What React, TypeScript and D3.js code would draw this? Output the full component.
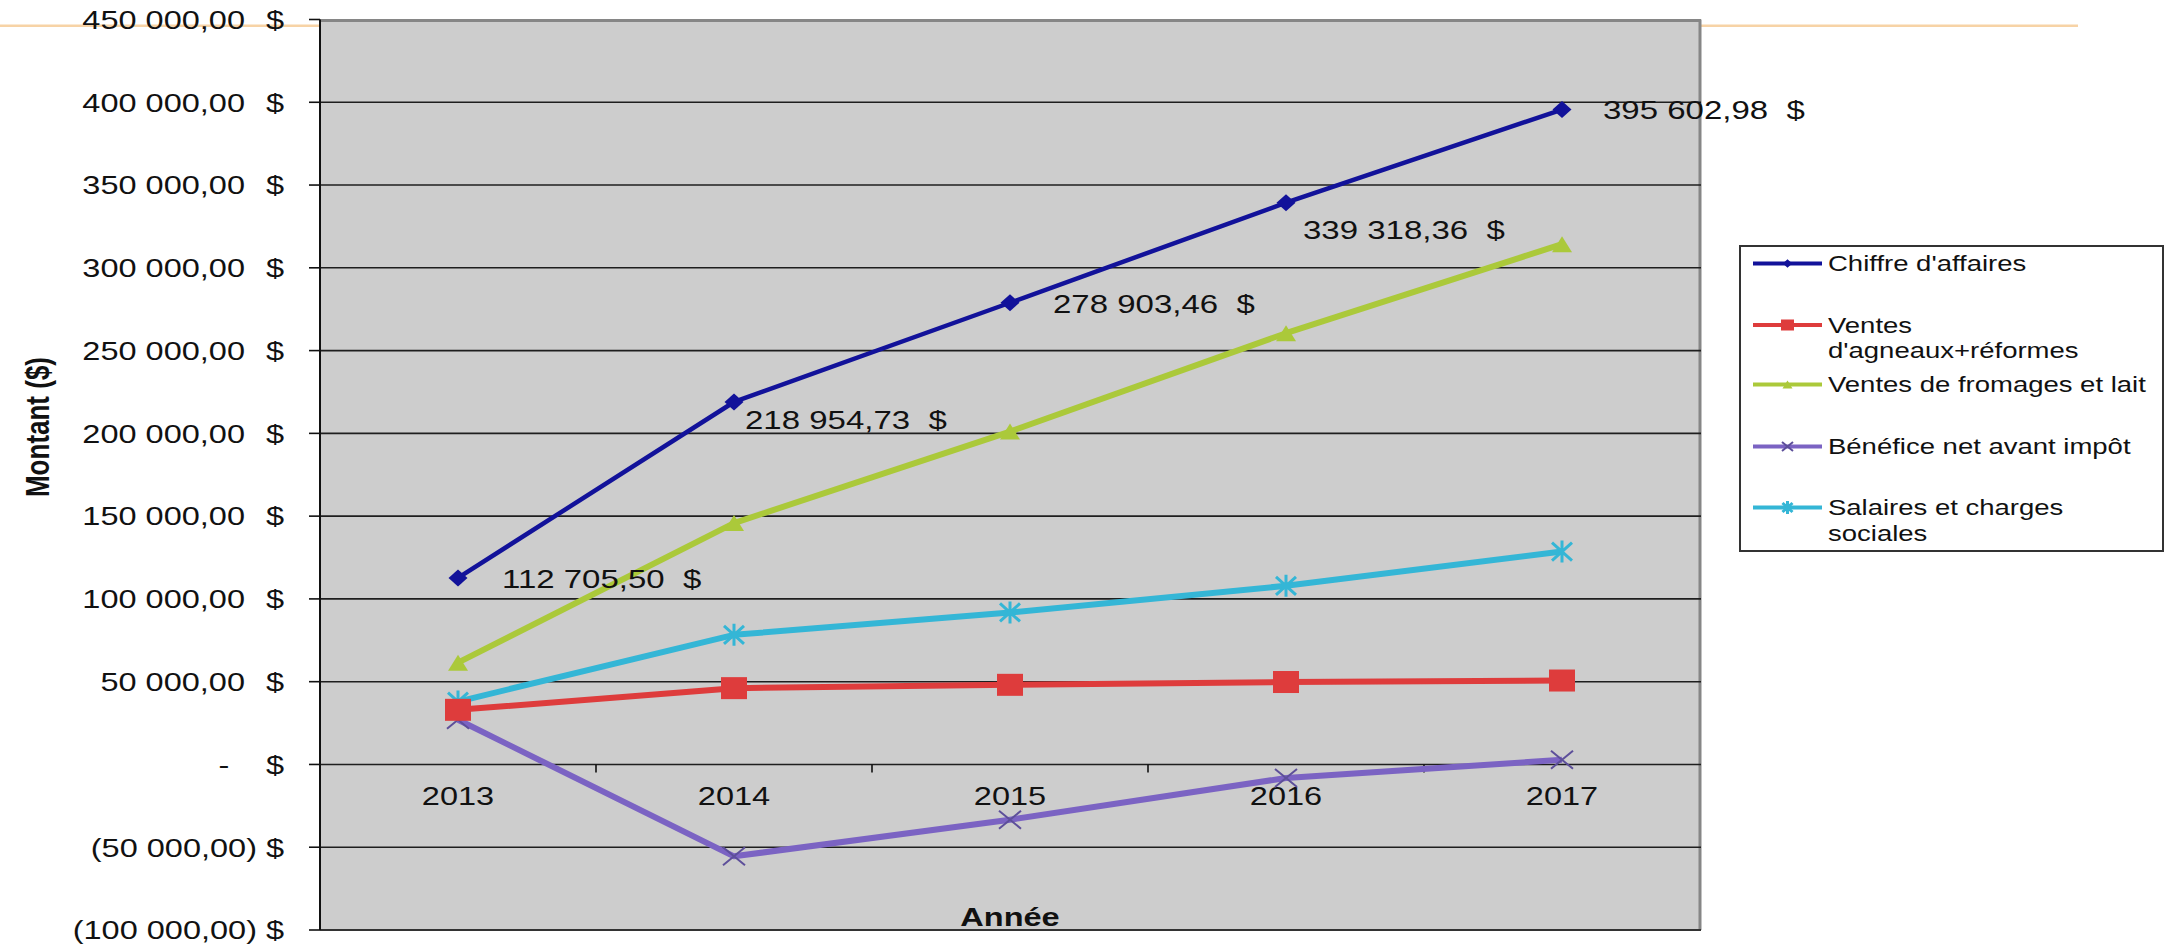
import React from "react";
import * as d3 from "d3";

const years = ["2013", "2014", "2015", "2016", "2017"];
const chiffreAffaires = [112705.5, 218954.73, 278903.46, 339318.36, 395602.98];
const ventesAgneaux = [33000, 46100, 48100, 49800, 50700];
const ventesFromages = [61500, 145800, 201100, 260500, 314300];
const benefice = [27000, -55500, -33400, -8200, 2800];
const salaires = [38000, 78300, 91800, 107900, 128600];
const yTicks = [-100000, -50000, 0, 50000, 100000, 150000, 200000, 250000, 300000, 350000, 400000, 450000];
const seriesNames = [
  ["Chiffre d'affaires"],
  ["Ventes", "d'agneaux+réformes"],
  ["Ventes de fromages et lait"],
  ["Bénéfice net avant impôt"],
  ["Salaires et charges", "sociales"],
];
// label offsets (dx, dy) for the data labels of Chiffre d'affaires
const labelOffsets = [
  [44, 1],
  [11, 18],
  [43, 1],
  [17, 27],
  [41, 0],
];

const W = 2172;
const H = 944;
const plot = { left: 320, right: 1701, top: 19.5, bottom: 930 };
const FONT = "'Liberation Sans', Arial, sans-serif";
const SX = 1.25;

const y = d3.scaleLinear().domain([-100000, 450000]).range([plot.bottom, plot.top]);
const x = d3.scalePoint<string>().domain(years).range([458, 1562]);

const loc = d3.formatLocale({ decimal: ",", thousands: " ", grouping: [3], currency: ["", "$"] });
const fmt = loc.format(",.2f");

type MarkerKind = "diamond" | "square" | "triangle" | "x" | "star";

const series = [
  { values: chiffreAffaires, color: "#12129a", width: 4.5, marker: "diamond" as MarkerKind },
  { values: ventesAgneaux, color: "#de3c3c", width: 6, marker: "square" as MarkerKind },
  { values: ventesFromages, color: "#abc93a", width: 6, marker: "triangle" as MarkerKind },
  { values: benefice, color: "#7b63c3", width: 6, marker: "x" as MarkerKind },
  { values: salaires, color: "#34b6d6", width: 6, marker: "star" as MarkerKind },
];

function SText(props: any) {
  const { x: tx, y: ty, sx = SX, anchor = "start", size = 26, weight = "normal", rotate = 0, children, fill = "#111" } = props;
  return (
    <g transform={`translate(${tx},${ty}) scale(${sx},1) rotate(${rotate})`}>
      <text textAnchor={anchor} fontSize={size} fontWeight={weight} fontFamily={FONT} fill={fill} style={{ whiteSpace: "pre" }}>
        {children}
      </text>
    </g>
  );
}

function Marker({ kind, cx, cy, color, s = 1 }: { kind: MarkerKind; cx: number; cy: number; color: string; s?: number }) {
  if (kind === "diamond") {
    const hw = 9.5 * s, hh = 8.5 * s;
    return <path d={`M${cx},${cy - hh}L${cx + hw},${cy}L${cx},${cy + hh}L${cx - hw},${cy}Z`} fill={color} />;
  }
  if (kind === "square") {
    const hw = 13 * s, hh = 11 * s;
    return <rect x={cx - hw} y={cy - hh} width={2 * hw} height={2 * hh} fill={color} />;
  }
  if (kind === "triangle") {
    const hw = 10 * s, hh = 8 * s;
    return <path d={`M${cx},${cy - hh}L${cx + hw},${cy + hh}L${cx - hw},${cy + hh}Z`} fill={color} />;
  }
  if (kind === "x") {
    const hw = 11 * s, hh = 9 * s;
    return (
      <path
        d={`M${cx - hw},${cy - hh}L${cx + hw},${cy + hh}M${cx - hw},${cy + hh}L${cx + hw},${cy - hh}`}
        stroke="#5d4f9a"
        strokeWidth={2}
        fill="none"
      />
    );
  }
  const hw = 10 * s, hh = 9 * s;
  return (
    <path
      d={`M${cx - hw},${cy - hh}L${cx + hw},${cy + hh}M${cx - hw},${cy + hh}L${cx + hw},${cy - hh}M${cx},${cy - hh - 2}L${cx},${cy + hh + 2}`}
      stroke={color}
      strokeWidth={3}
      fill="none"
    />
  );
}

export default function App() {
  const line = d3
    .line<number>()
    .x((_, i) => x(years[i]) as number)
    .y((d) => y(d));

  const gridTicks = yTicks.filter((t) => t > -100000 && t < 450000);
  const xTickMarks = years.slice(1).map((yr, i) => ((x(years[i]) as number) + (x(yr) as number)) / 2);

  const legendRows = [263.5, 325, 384.5, 446.5, 507.5];

  return (
    <svg width={W} height={H} style={{ position: "absolute", left: 0, top: 0, background: "#fff" }}>
      <rect x={0} y={0} width={W} height={H} fill="#fff" />
      {/* decorative orange rule */}
      <line x1={0} x2={2078} y1={25.7} y2={25.7} stroke="#f7d3a6" strokeWidth={2.5} />

      {/* plot area */}
      <rect x={plot.left} y={plot.top} width={plot.right - plot.left} height={plot.bottom - plot.top} fill="#cdcdcd" />
      <line x1={plot.left} x2={plot.right} y1={plot.top + 1} y2={plot.top + 1} stroke="#868686" strokeWidth={3} />
      <line x1={plot.right - 1} x2={plot.right - 1} y1={plot.top} y2={plot.bottom} stroke="#868686" strokeWidth={3} />

      {gridTicks.map((t) => (
        <line key={t} x1={plot.left} x2={plot.right} y1={y(t)} y2={y(t)} stroke="#1e1e1e" strokeWidth={1.6} />
      ))}
      <line x1={plot.left} x2={plot.right} y1={plot.bottom} y2={plot.bottom} stroke="#333" strokeWidth={2} />

      {/* y axis */}
      <line x1={plot.left} x2={plot.left} y1={plot.top} y2={plot.bottom} stroke="#111" strokeWidth={2} />
      {yTicks.map((t) => (
        <line key={"yt" + t} x1={309} x2={plot.left} y1={y(t)} y2={y(t)} stroke="#111" strokeWidth={1.6} />
      ))}
      {yTicks.map((t) => {
        const ty = y(t) + 0.358 * 26;
        let num: React.ReactNode;
        if (t === 0) num = <SText x={224} y={ty} anchor="middle">-</SText>;
        else if (t < 0) num = <SText x={257} y={ty} anchor="end">{"(" + fmt(-t) + ")"}</SText>;
        else num = <SText x={245} y={ty} anchor="end">{fmt(t)}</SText>;
        return (
          <g key={"yl" + t}>
            {num}
            <SText x={284} y={ty} anchor="end">$</SText>
          </g>
        );
      })}

      {/* x axis ticks */}
      {xTickMarks.map((tx) => (
        <line key={tx} x1={tx} x2={tx} y1={y(0)} y2={y(0) + 8} stroke="#111" strokeWidth={1.6} />
      ))}
      {years.map((yr) => (
        <SText key={yr} x={x(yr)} y={796 + 0.358 * 26} anchor="middle">{yr}</SText>
      ))}

      {/* axis titles */}
      <SText x={1010} y={917 + 0.358 * 26} anchor="middle" weight="bold">Année</SText>
      <SText x={37} y={427} anchor="middle" weight="bold" rotate={-90}>
        <tspan dy={9.3}>Montant ($)</tspan>
      </SText>

      {/* series lines (drawn bottom to top) */}
      {[4, 3, 2, 1, 0].map((si) => {
        const s = series[si];
        return (
          <path key={"l" + si} d={line(s.values) || ""} fill="none" stroke={s.color} strokeWidth={s.width} strokeLinejoin="round" />
        );
      })}
      {[4, 3, 2, 1, 0].map((si) => {
        const s = series[si];
        return (
          <g key={"m" + si}>
            {s.values.map((v, i) => (
              <Marker key={i} kind={s.marker} cx={x(years[i]) as number} cy={y(v)} color={s.color} />
            ))}
          </g>
        );
      })}

      {/* data labels */}
      {chiffreAffaires.map((v, i) => (
        <SText
          key={"dl" + i}
          x={(x(years[i]) as number) + labelOffsets[i][0]}
          y={y(v) + labelOffsets[i][1] + 9}
          size={25}
          sx={1.32}
        >
          {fmt(v) + "\u00a0\u00a0$"}
        </SText>
      ))}

      {/* legend */}
      <rect x={1740} y={246} width={423} height={305} fill="#fff" stroke="#333" strokeWidth={2} />
      {series.map((s, i) => {
        const cy = legendRows[i];
        return (
          <g key={"lg" + i}>
            <line x1={1753} x2={1822} y1={cy} y2={cy} stroke={s.color} strokeWidth={4} />
            <Marker kind={s.marker} cx={1787.5} cy={cy} color={s.color} s={0.5} />
            {seriesNames[i].map((t, j) => (
              <SText key={j} x={1828} y={cy + j * 25.5 + 0.358 * 22} size={22}>
                {t}
              </SText>
            ))}
          </g>
        );
      })}
    </svg>
  );
}
